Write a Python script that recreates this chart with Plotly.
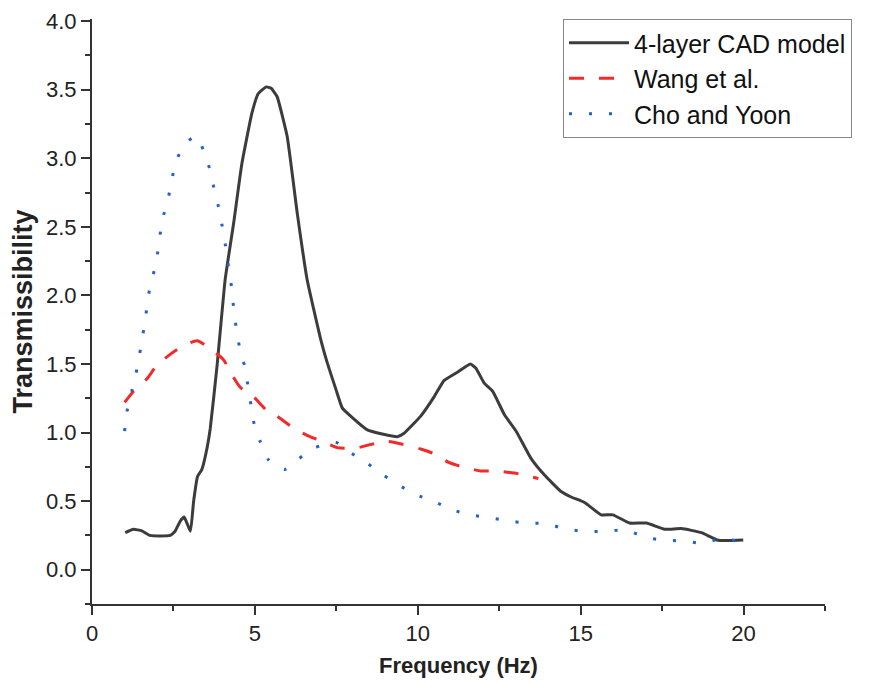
import plotly.graph_objects as go

# 4-layer CAD model
cad_x = [1.02, 1.27, 1.53, 1.78, 2.09, 2.4, 2.55, 2.71, 2.83, 3.02, 3.12, 3.24, 3.37, 3.53, 3.63, 3.84,
         4.09, 4.35, 4.6, 4.91, 5.1, 5.35, 5.5, 5.68, 5.99, 6.3, 6.6, 7.02, 7.22, 7.48, 7.68, 7.94,
         8.45, 8.91, 9.37, 9.58, 10.09, 10.5, 10.81, 11.22, 11.61, 11.78, 12.04, 12.3, 12.66, 13.02,
         13.48, 13.89, 14.4, 14.71, 15.12, 15.63, 15.99, 16.5, 17.02, 17.58, 18.09, 18.71, 19.22, 19.99]
cad_y = [0.27, 0.295, 0.283, 0.25, 0.246, 0.25, 0.28, 0.355, 0.384, 0.28, 0.5, 0.68, 0.73, 0.886, 1.03, 1.49,
         2.12, 2.53, 2.96, 3.33, 3.47, 3.52, 3.51, 3.45, 3.16, 2.6, 2.12, 1.68, 1.51, 1.32, 1.18, 1.12,
         1.02, 0.99, 0.97, 0.995, 1.12, 1.26, 1.38, 1.44, 1.50, 1.47, 1.36, 1.30, 1.13, 1.01,
         0.81, 0.69, 0.57, 0.53, 0.49, 0.40, 0.40, 0.34, 0.34, 0.295, 0.30, 0.27, 0.215, 0.217]

# Wang et al.
wang_x = [1.0, 1.27, 1.68, 1.99, 2.4, 2.71, 3.22, 3.58, 4.04, 4.25, 4.55, 4.96, 5.37, 5.68, 6.2, 6.6,
          7.12, 7.53, 8.09, 8.5, 9.07, 9.53, 10.09, 10.45, 10.97, 11.37, 11.94, 12.4, 12.96, 13.43, 13.7]
wang_y = [1.22, 1.30, 1.39, 1.49, 1.57, 1.62, 1.67, 1.62, 1.53, 1.44, 1.33, 1.26, 1.16, 1.12, 1.03, 0.98,
          0.93, 0.89, 0.886, 0.91, 0.935, 0.915, 0.88, 0.85, 0.78, 0.75, 0.72, 0.72, 0.705, 0.68, 0.665]

# Cho and Yoon
cho_x = [1.0, 1.07, 1.22, 1.35, 1.46, 1.56, 1.65, 1.73, 1.86, 1.99, 2.07, 2.16, 2.32, 2.44, 2.55, 2.84,
         3.2, 3.48, 3.65, 3.77, 3.92, 4.02, 4.12, 4.2, 4.29, 4.35, 4.43, 4.53, 4.69, 4.78, 4.88, 4.98,
         5.17, 5.42, 5.91, 6.35, 6.86, 7.48, 7.89, 8.43, 8.94, 9.4, 9.91, 10.48, 11.02, 11.61, 12.19,
         12.79, 13.37, 13.96, 14.55, 15.17, 15.78, 16.38, 16.94, 17.53, 18.14, 18.73, 19.34, 19.94]
cho_y = [1.01, 1.15, 1.30, 1.43, 1.57, 1.71, 1.85, 2.0, 2.13, 2.27, 2.41, 2.55, 2.69, 2.82, 2.96, 3.10,
         3.16, 3.02, 2.89, 2.75, 2.61, 2.47, 2.33, 2.19, 2.05, 1.90, 1.76, 1.62, 1.48, 1.35, 1.20, 1.06,
         0.93, 0.80, 0.73, 0.81, 0.89, 0.93, 0.86, 0.78, 0.69, 0.62, 0.55, 0.50, 0.44, 0.40, 0.38,
         0.355, 0.34, 0.335, 0.295, 0.28, 0.28, 0.29, 0.24, 0.215, 0.21, 0.193, 0.227, 0.20]

x_ticks = [0, 5, 10, 15, 20]
y_ticks = [0.0, 0.5, 1.0, 1.5, 2.0, 2.5, 3.0, 3.5, 4.0]
y_labels = ["0.0", "0.5", "1.0", "1.5", "2.0", "2.5", "3.0", "3.5", "4.0"]

fig = go.Figure()
fig.add_trace(go.Scatter(x=cad_x, y=cad_y, mode="lines", name="4-layer CAD model",
                         line=dict(color="#3c3c3c", width=3, shape="spline", smoothing=0.4)))
fig.add_trace(go.Scatter(x=wang_x, y=wang_y, mode="lines", name="Wang et al.",
                         line=dict(color="#f22a2a", width=3, dash="15px,15px", shape="spline", smoothing=0.6)))
fig.add_trace(go.Scatter(x=cho_x, y=cho_y, mode="lines", name="Cho and Yoon",
                         line=dict(color="#2462c4", width=3, dash="3px,17px", shape="spline", smoothing=0.6)))

fnt = "Liberation Sans, Arial, sans-serif"
fig.update_layout(
    width=880, height=692,
    margin=dict(l=84, r=63, t=11, b=96, autoexpand=False),
    plot_bgcolor="white", paper_bgcolor="white",
    font=dict(family=fnt, color="#222"),
    showlegend=True,
    legend=dict(x=(563 - 92) / 733, y=1.0, xref="paper", yref="paper",
                xanchor="left", yanchor="top",
                font=dict(size=25, family=fnt, color="#111"),
                bordercolor="#888", borderwidth=1, bgcolor="white",
                itemwidth=60, tracegroupgap=0),
    xaxis=dict(range=[0, 22.5], tickvals=x_ticks, ticks="outside", ticklen=9, tickwidth=2,
               tickcolor="#333", showline=True, linecolor="#333", linewidth=2, showgrid=False,
               zeroline=False, tickfont=dict(size=22, color="#222"), automargin=False,
               ticklabeloverflow="allow",
               minor=dict(ticks="outside", ticklen=5, tickwidth=2, tickcolor="#333", dtick=2.5, showgrid=False),
               title=dict(text="<b>Frequency (Hz)</b>", font=dict(size=22, color="#222"), standoff=12)),
    yaxis=dict(range=[-0.25, 4.015], tickvals=y_ticks, ticktext=y_labels, ticks="outside", ticklen=9,
               tickwidth=2, tickcolor="#333", showline=True, linecolor="#333", linewidth=2,
               showgrid=False, zeroline=False, tickfont=dict(size=22, color="#222"), automargin=False,
               ticklabeloverflow="allow",
               minor=dict(ticks="outside", ticklen=5, tickwidth=2, tickcolor="#333", dtick=0.25, showgrid=False),
               title=dict(text="<b>Transmissibility</b>", font=dict(size=27, color="#222"), standoff=10)),
)
fig.write_html("out.html")
